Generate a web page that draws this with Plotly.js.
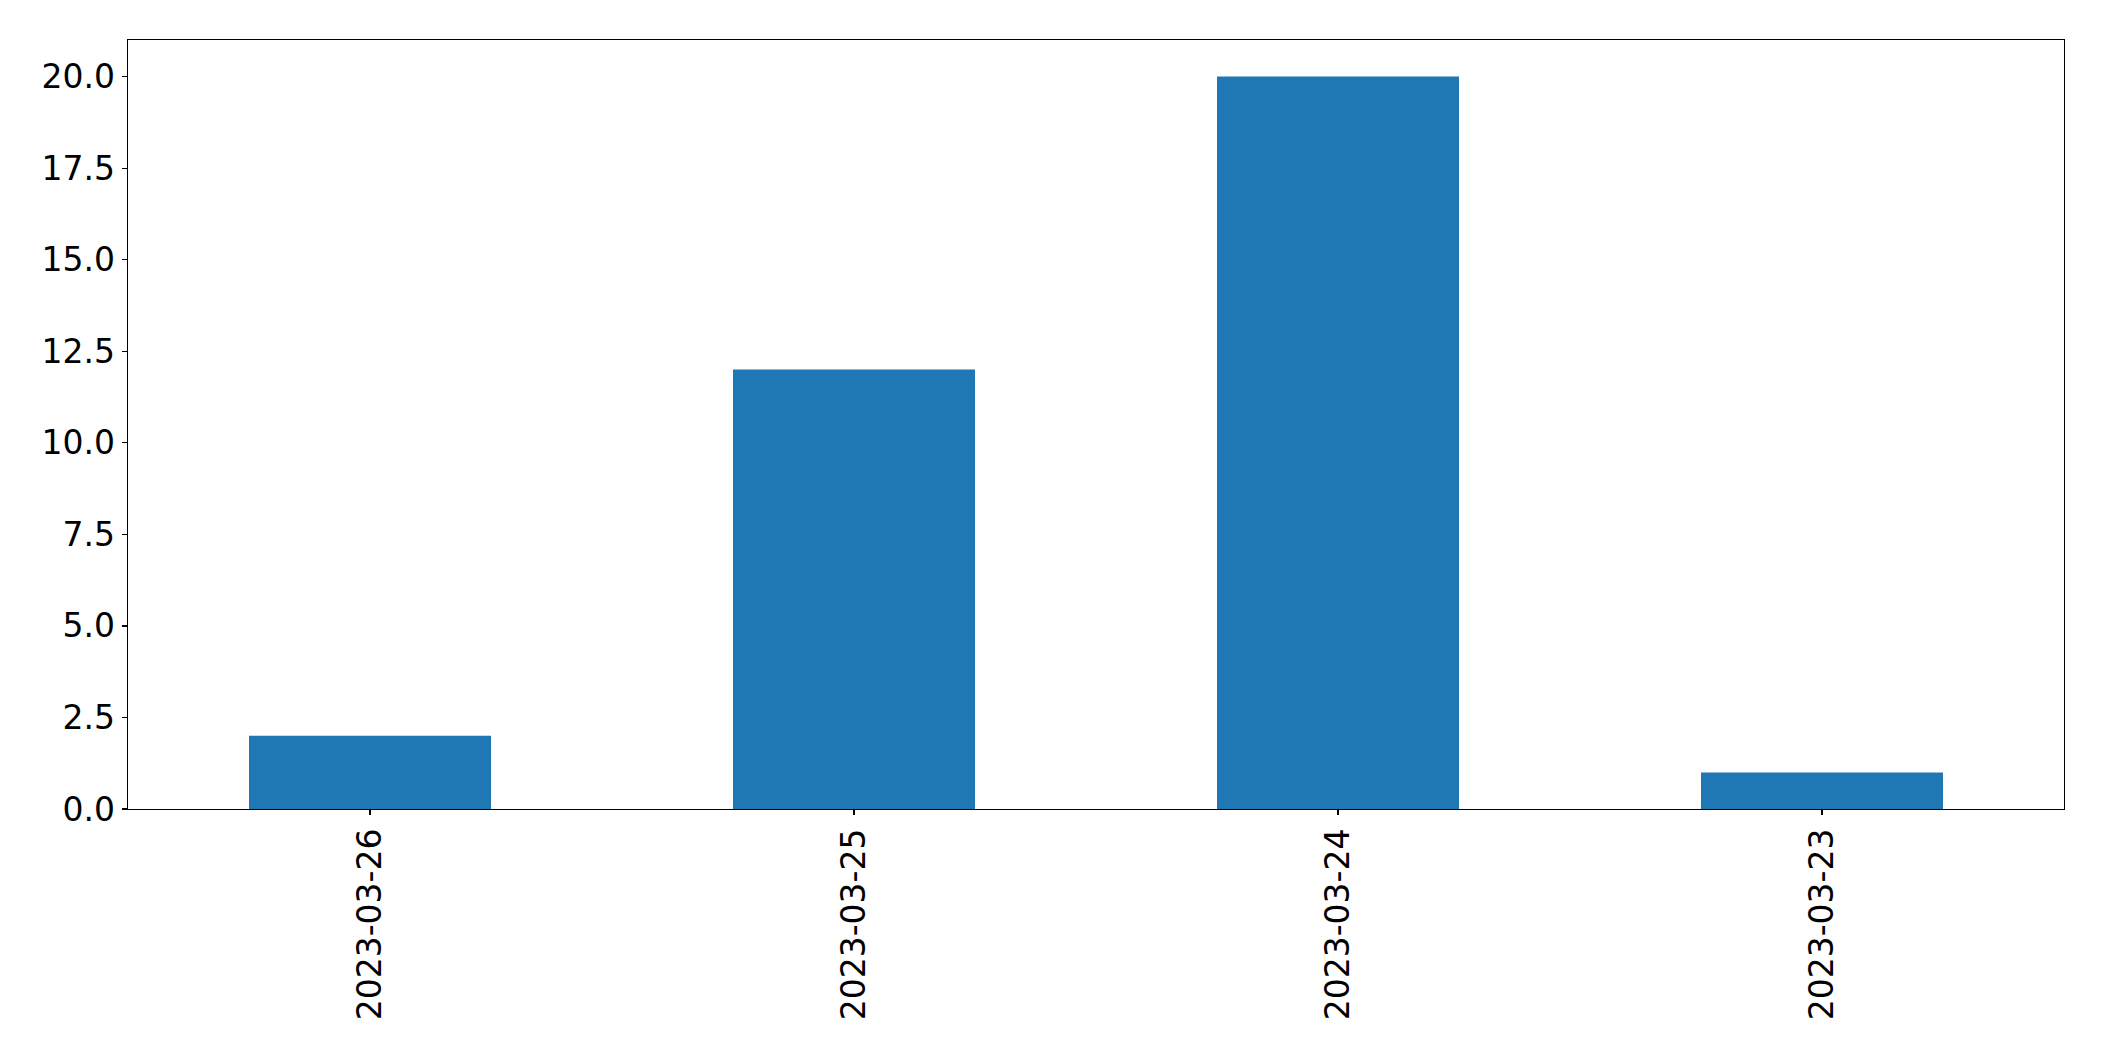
<!DOCTYPE html>
<html>
<head>
<meta charset="utf-8">
<script src="https://cdn.plot.ly/plotly-3.0.1.min.js"></script>
<style>html,body{margin:0;padding:0;background:#fff;}#chart{width:2104px;height:1061px;}</style>
</head>
<body>
<div id="chart"></div>
<script>
const categories = ["2023-03-26", "2023-03-25", "2023-03-24", "2023-03-23"];
const counts = [2, 12, 20, 1];
const yTickValues = [0, 2.5, 5, 7.5, 10, 12.5, 15, 17.5, 20];

const trace = {
  type: "bar",
  x: categories,
  y: counts,
  marker: { color: "#1f77b4", line: { width: 0 } },
  width: 0.5,
  hoverinfo: "x+y"
};

const layout = {
  width: 2104,
  height: 1061,
  margin: { l: 127.5, r: 40, t: 40, b: 252, pad: 0 },
  paper_bgcolor: "#ffffff",
  plot_bgcolor: "#ffffff",
  font: { family: "DejaVu Sans, sans-serif", size: 33, color: "#000000" },
  showlegend: false,
  xaxis: {
    type: "category",
    range: [-0.5, 3.5],
    tickangle: -90,
    ticks: "outside",
    ticklen: 5,
    tickwidth: 1.3,
    tickcolor: "#000",
    showline: true,
    linecolor: "#000",
    linewidth: 1.3,
    mirror: true,
    showgrid: false,
    zeroline: false,
    tickfont: { size: 33 }
  },
  yaxis: {
    range: [0, 21],
    tickvals: yTickValues,
    tickformat: ".1f",
    ticks: "outside",
    ticklen: 5,
    tickwidth: 1.3,
    tickcolor: "#000",
    showline: true,
    linecolor: "#000",
    linewidth: 1.3,
    mirror: true,
    showgrid: false,
    zeroline: false,
    tickfont: { size: 33 }
  }
};

Plotly.newPlot("chart", [trace], layout, { displayModeBar: false, staticPlot: true });
</script>
</body>
</html>
